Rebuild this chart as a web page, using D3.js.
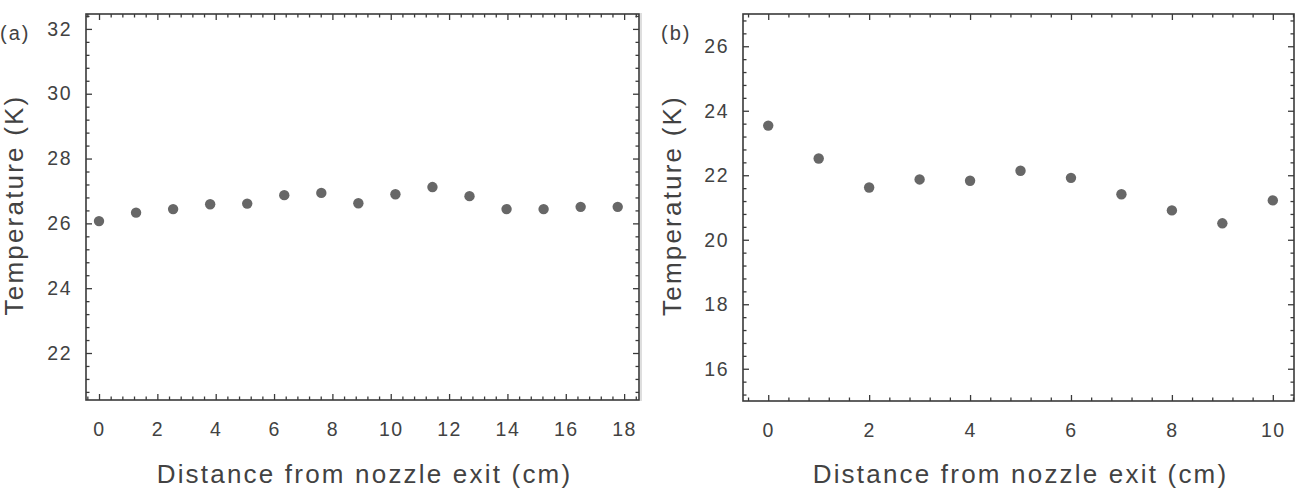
<!DOCTYPE html>
<html>
<head>
<meta charset="utf-8">
<script src="https://cdn.jsdelivr.net/npm/d3@7"></script>
<style>
  html, body { margin: 0; padding: 0; background: #fff; }
  svg { display: block; }
  text { font-family: Arial, "Liberation Sans", sans-serif; fill: #424242; }
</style>
</head>
<body>
<svg id="chart" width="1300" height="489"></svg>
<script>
// ---- data ----
const distanceA = [0, 1.27, 2.54, 3.81, 5.08, 6.35, 7.62, 8.89, 10.16, 11.43, 12.70, 13.97, 15.24, 16.51, 17.78];
const temperatureA = [26.07, 26.33, 26.44, 26.59, 26.61, 26.87, 26.94, 26.62, 26.90, 27.12, 26.84, 26.44, 26.44, 26.51, 26.51];
const distanceB = [0, 1, 2, 3, 4, 5, 6, 7, 8, 9, 10];
const temperatureB = [23.54, 22.52, 21.62, 21.87, 21.83, 22.14, 21.92, 21.41, 20.91, 20.51, 21.22];
const xTicksA = [0, 2, 4, 6, 8, 10, 12, 14, 16, 18];
const yTicksA = [22, 24, 26, 28, 30, 32];
const xTicksB = [0, 2, 4, 6, 8, 10];
const yTicksB = [16, 18, 20, 22, 24, 26];
const panelLabels = ["(a)", "(b)"];
const xTitle = "Distance from nozzle exit (cm)";
const yTitle = "Temperature (K)";

const svg = d3.select("#chart");

// separator line of panel (b)
svg.append("line").attr("x1", 641).attr("x2", 641).attr("y1", 13).attr("y2", 401)
  .attr("stroke", "#bdbdbd").attr("stroke-width", 1);

function minorVals(lo, hi, step) {
  const out = [];
  const n = Math.round((hi - lo) / step);
  for (let i = 0; i <= n; i++) out.push(+(lo + i * step).toFixed(4));
  return out;
}

function panel(cfg) {
  const { left, right, top, bottom, xDom, yDom, xs, ys, xT, yT, xMinor, yMinor, label, labelX, yTitleX } = cfg;
  const x = d3.scaleLinear().domain(xDom).range([left, right]);
  const y = d3.scaleLinear().domain(yDom).range([bottom, top]);
  const g = svg.append("g");
  const W = right - left, H = bottom - top;

  function styleAxis(sel) {
    sel.select(".domain").remove();
    sel.selectAll(".tick line").attr("stroke", "#3a3a3a").attr("stroke-width", 1.3);
    sel.selectAll(".tick text").style("font-size", "19.5px").style("letter-spacing", "1.5px").attr("fill", "#424242");
  }

  // minor ticks (all four sides)
  const minorX = xMinor.filter(v => !xT.includes(v));
  const minorY = yMinor.filter(v => !yT.includes(v));
  g.append("g").attr("transform", `translate(0,${bottom})`)
    .call(d3.axisBottom(x).tickValues(minorX).tickSize(-3.5).tickFormat(""))
    .call(styleAxis);
  g.append("g").attr("transform", `translate(0,${top})`)
    .call(d3.axisTop(x).tickValues(minorX).tickSize(-3.5).tickFormat(""))
    .call(styleAxis);
  g.append("g").attr("transform", `translate(${left},0)`)
    .call(d3.axisLeft(y).tickValues(minorY).tickSize(-3.5).tickFormat(""))
    .call(styleAxis);
  g.append("g").attr("transform", `translate(${right},0)`)
    .call(d3.axisRight(y).tickValues(minorY).tickSize(-3.5).tickFormat(""))
    .call(styleAxis);

  // major ticks
  g.append("g").attr("transform", `translate(0,${bottom})`)
    .call(d3.axisBottom(x).tickValues(xT).tickSize(-6).tickPadding(22).tickFormat(d3.format("d")))
    .call(styleAxis);
  g.append("g").attr("transform", `translate(0,${top})`)
    .call(d3.axisTop(x).tickValues(xT).tickSize(-6).tickFormat(""))
    .call(styleAxis);
  g.append("g").attr("transform", `translate(${left},0)`)
    .call(d3.axisLeft(y).tickValues(yT).tickSize(-6).tickPadding(14).tickFormat(d3.format("d")))
    .call(styleAxis);
  g.append("g").attr("transform", `translate(${right},0)`)
    .call(d3.axisRight(y).tickValues(yT).tickSize(-6).tickFormat(""))
    .call(styleAxis);

  // frame
  g.append("rect").attr("x", left).attr("y", top).attr("width", W).attr("height", H)
    .attr("fill", "none").attr("stroke", "#3a3a3a").attr("stroke-width", 1.6);

  // points
  g.append("g").selectAll("circle").data(xs.map((d, i) => [d, ys[i]])).join("circle")
    .attr("cx", d => x(d[0])).attr("cy", d => y(d[1])).attr("r", 5.2)
    .attr("fill", "#676767");

  // titles
  g.append("text").attr("x", (left + right) / 2 + 2).attr("y", 483)
    .attr("text-anchor", "middle").style("font-size", "26px").style("letter-spacing", "2.2px")
    .text(xTitle);
  g.append("text").attr("transform", `translate(${yTitleX},${(top + bottom) / 2 - 2}) rotate(-90)`)
    .attr("text-anchor", "middle").style("font-size", "26px").style("letter-spacing", "2.2px")
    .text(yTitle);
  g.append("text").attr("x", labelX).attr("y", 40)
    .style("font-size", "20px").style("letter-spacing", "2px")
    .text(label);
}

panel({
  left: 86, right: 639, top: 14, bottom: 400,
  xDom: [-0.446, 18.51], yDom: [20.55, 32.46],
  xs: distanceA, ys: temperatureA, xT: xTicksA, yT: yTicksA,
  xMinor: minorVals(-0.4, 18.4, 0.4), yMinor: minorVals(20.8, 32.4, 0.4),
  label: panelLabels[0], labelX: 0, yTitleX: 23
});
panel({
  left: 743, right: 1294, top: 14, bottom: 401,
  xDom: [-0.5, 10.42], yDom: [15, 27],
  xs: distanceB, ys: temperatureB, xT: xTicksB, yT: yTicksB,
  xMinor: minorVals(-0.4, 10.4, 0.4), yMinor: minorVals(15.2, 26.8, 0.4),
  label: panelLabels[1], labelX: 661, yTitleX: 681
});
</script>
</body>
</html>
